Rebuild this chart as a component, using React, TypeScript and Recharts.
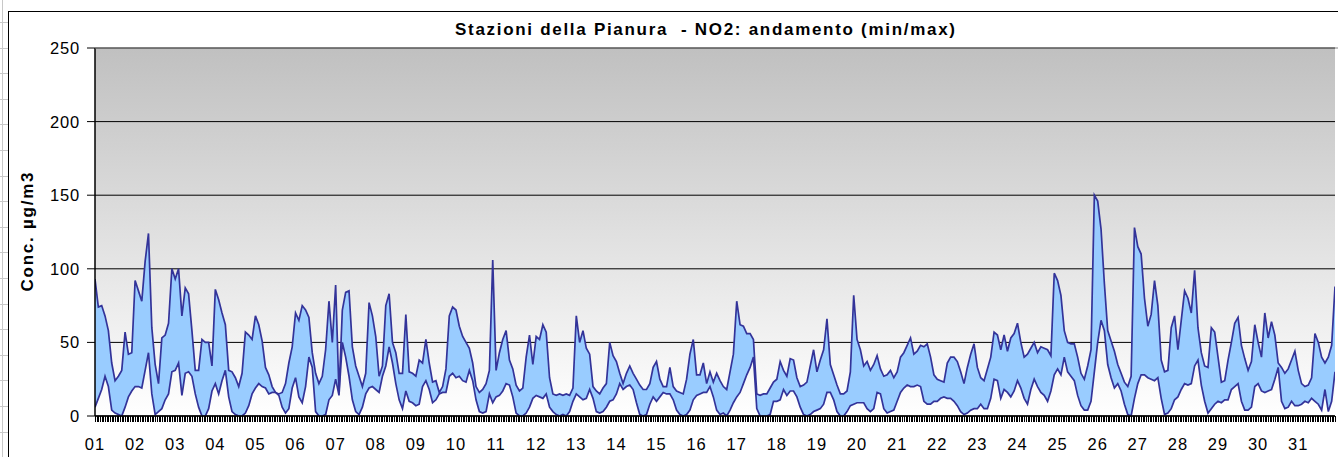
import React from "react";
import { ComposedChart, Area, Line, XAxis, YAxis, CartesianGrid } from "recharts";

// Day tick labels (one per day, start of day)
const dayLabels = [
  "01", "02", "03", "04", "05", "06", "07", "08", "09", "10",
  "11", "12", "13", "14", "15", "16", "17", "18", "19", "20",
  "21", "22", "23", "24", "25", "26", "27", "28", "29", "30", "31",
];

// Values are sampled every 2 hours (12 samples per day)
const hourStep = 2;

// Hourly maximum NO2 (µg/m3) among plain stations, 2-hour samples
const maxValues = [
  93, 74, 75, 68, 58, 36, 24, 27, 31, 57, 42, 43,
  92, 85, 78, 105, 124, 60, 35, 22, 53, 55, 63, 100,
  93, 100, 68, 87, 83, 58, 31, 31, 52, 50, 50, 34,
  86, 79, 70, 62, 31, 30, 26, 20, 29, 57, 55, 52,
  68, 62, 51, 33, 28, 20, 16, 15, 16, 22, 36, 47,
  70, 65, 75, 72, 67, 43, 29, 22, 27, 45, 78, 50,
  89, 16, 72, 84, 85, 47, 34, 27, 20, 29, 77, 68,
  54, 27, 34, 75, 83, 50, 43, 29, 29, 69, 30, 29,
  27, 38, 36, 52, 36, 23, 24, 16, 20, 32, 68, 74,
  72, 61, 54, 50, 46, 36, 20, 16, 18, 22, 31, 106,
  31, 43, 52, 58, 38, 32, 21, 17, 19, 40, 55, 35,
  54, 52, 62, 57, 26, 15, 14, 15, 14, 15, 14, 19,
  68, 50, 58, 46, 42, 20, 17, 15, 19, 22, 50, 41,
  37, 29, 22, 29, 34, 29, 25, 21, 18, 18, 22, 33,
  37, 25, 20, 20, 33, 20, 17, 16, 15, 25, 42, 52,
  28, 28, 36, 22, 30, 23, 29, 24, 20, 18, 30, 42,
  78, 62, 61, 56, 56, 52, 15, 14, 15, 15, 19, 23,
  25, 37, 31, 27, 39, 38, 26, 20, 21, 23, 34, 45,
  30, 38, 45, 66, 35, 28, 21, 15, 15, 17, 30, 82,
  52, 45, 34, 37, 31, 35, 41, 32, 27, 28, 31, 26,
  30, 40, 43, 48, 53, 42, 44, 48, 47, 49, 40, 28,
  25, 24, 23, 36, 40, 40, 37, 30, 22, 33, 42, 49,
  33, 26, 24, 32, 40, 57, 55, 45, 55, 44, 53, 56,
  63, 50, 40, 42, 46, 50, 43, 47, 46, 45, 41, 97,
  92, 82, 58, 50, 49, 49, 40, 29, 25, 34, 45, 150,
  146, 127, 90, 58, 51, 44, 35, 29, 23, 20, 27, 128,
  115, 110, 80, 61, 69, 92, 75, 38, 30, 31, 60, 68,
  45, 65, 85, 80, 70, 99, 60, 43, 34, 33, 60, 57,
  40, 23, 24, 38, 50, 63, 67, 48, 39, 31, 37, 62,
  50, 40, 70, 53, 64, 55, 36, 33, 29, 32, 38, 44,
  31, 22, 20, 21, 26, 56, 50, 40, 36, 40, 48, 88,
];

// Hourly minimum NO2 (µg/m3) among plain stations, 2-hour samples
const minValues = [
  6, 12, 18, 27, 20, 4, 2, 1, 0, 6, 13, 17,
  20, 20, 19, 31, 43, 15, 1, 3, 5, 11, 15, 30,
  31, 36, 14, 29, 30, 27, 15, 6, 0, 0, 5, 17,
  22, 15, 24, 31, 13, 3, 1, 0, 0, 2, 7, 15,
  19, 22, 20, 19, 15, 16, 16, 14, 6, 2, 5, 19,
  26, 13, 9, 20, 40, 33, 3, 0, 0, 1, 11, 14,
  25, 14, 50, 40, 27, 11, 3, 1, 6, 15, 19, 20,
  18, 16, 27, 34, 47, 36, 22, 11, 5, 17, 10, 9,
  7, 8, 20, 24, 18, 9, 11, 15, 16, 16, 27, 29,
  26, 27, 24, 23, 31, 24, 11, 3, 2, 3, 15, 9,
  13, 14, 17, 22, 21, 13, 2, 0, 0, 2, 6, 12,
  14, 13, 12, 15, 6, 3, 1, 0, 1, 0, 3, 10,
  15, 13, 11, 12, 18, 12, 3, 2, 3, 6, 10, 11,
  15, 22, 18, 20, 21, 18, 9, 1, 0, 1, 8, 13,
  10, 13, 16, 15, 15, 11, 4, 1, 0, 1, 4, 11,
  14, 15, 16, 16, 20, 13, 4, 1, 2, 0, 4, 9,
  13, 16, 22, 28, 33, 40, 5, 0, 0, 0, 1, 10,
  10, 11, 18, 14, 17, 17, 13, 6, 1, 0, 1, 3,
  4, 5, 8, 16, 16, 11, 3, 0, 0, 3, 7, 8,
  9, 9, 9, 5, 3, 5, 16, 15, 5, 2, 3, 4,
  10, 16, 19, 21, 20, 20, 21, 20, 10, 8, 8, 10,
  10, 12, 13, 12, 12, 10, 7, 3, 1, 2, 4, 5,
  5, 8, 5, 5, 12, 25, 24, 12, 18, 16, 13, 17,
  24, 19, 12, 8, 18, 25, 20, 16, 14, 10, 17, 28,
  32, 28, 40, 30, 27, 24, 14, 7, 4, 4, 10, 30,
  50, 65, 58, 35, 26, 19, 22, 17, 8, 1, 0, 12,
  22, 28, 28, 26, 25, 24, 26, 12, 1, 2, 5, 11,
  13, 18, 22, 21, 22, 34, 38, 21, 10, 2, 5, 8,
  10, 9, 11, 11, 18, 20, 22, 10, 4, 4, 6, 20,
  22, 17, 16, 17, 18, 25, 33, 10, 5, 6, 10, 7,
  7, 8, 10, 9, 12, 10, 8, 4, 18, 3, 10, 30,
];

const yTicks = [0, 50, 100, 150, 200, 250];

const titleText = "Stazioni della Pianura  - NO2: andamento (min/max)";
const yAxisTitle = "Conc. µg/m3";

const data = maxValues.map((mx, i) => ({
  hour: i * hourStep,
  min: minValues[i],
  max: mx,
  band: [minValues[i], mx],
}));

const lastHour = (maxValues.length - 1) * hourStep;
const hourTicks: number[] = [];
for (let h = 0; h <= lastHour; h++) hourTicks.push(h);

const FONT = "'Liberation Sans', Arial, Helvetica, sans-serif";

// Layout constants
const CHART_W = 1338;
const CHART_H = 457;
const X_AXIS_H = 41;
const PLOT_BOTTOM = CHART_H - X_AXIS_H;

const XTick = (props: any) => {
  const { x, payload } = props;
  const v = payload?.value as number;
  const isDay = v % 24 === 0;
  const px = Math.round(x) + 0.5;
  return (
    <g>
      <line
        x1={px}
        x2={px}
        y1={PLOT_BOTTOM}
        y2={PLOT_BOTTOM + 6}
        stroke="#000"
        strokeWidth={1}
        shapeRendering="crispEdges"
      />
      {isDay ? (
        <text
          x={x}
          y={PLOT_BOTTOM + 34}
          textAnchor="middle"
          fontSize={16.5}
          letterSpacing={1}
          fontFamily={FONT}
          fill="#000"
        >
          {dayLabels[v / 24]}
        </text>
      ) : null}
    </g>
  );
};

const YTick = (props: any) => {
  const { x, y, payload } = props;
  return (
    <text
      x={x}
      y={y}
      dy={6}
      textAnchor="end"
      fontSize={16.5}
      letterSpacing={0.8}
      fontFamily={FONT}
      fill="#000"
    >
      {payload.value}
    </text>
  );
};

export default function App() {
  return (
    <div
      style={{
        position: "absolute",
        left: 0,
        top: 0,
        width: CHART_W,
        height: CHART_H,
        overflow: "hidden",
        background: "#fff",
      }}
    >
      {/* spreadsheet row header edge */}
      <div
        style={{
          position: "absolute",
          left: 2,
          top: 0,
          width: 1,
          height: CHART_H,
          background: "#c8c8c8",
        }}
      />
      <div
        style={{
          position: "absolute",
          left: 0,
          top: 0,
          width: 8,
          height: CHART_H,
          backgroundImage:
            "repeating-linear-gradient(to bottom, transparent 0px, transparent 22px, #c8c8c8 22px, #c8c8c8 23px, transparent 23px, transparent 25.6px)",
        }}
      />
      {/* chart outer border */}
      <div
        style={{
          position: "absolute",
          left: 8,
          top: 11,
          width: 1400,
          height: 500,
          border: "1.5px solid #000",
          background: "#fff",
        }}
      />
      <div style={{ position: "absolute", left: 0, top: 0 }}>
        <ComposedChart
          width={CHART_W}
          height={CHART_H}
          data={data}
          margin={{ top: 48, right: 3, bottom: 0, left: 10 }}
        >
          <defs>
            <linearGradient id="plotBg" x1="0" y1="0" x2="0" y2="1">
              <stop offset="0%" stopColor="#c0c0c0" />
              <stop offset="100%" stopColor="#ffffff" />
            </linearGradient>
          </defs>
          <CartesianGrid
            fill="url(#plotBg)"
            fillOpacity={1}
            stroke="#000"
            strokeWidth={1}
            vertical={false}
          />
          <Area
            dataKey="band"
            type="linear"
            fill="#99ccff"
            fillOpacity={1}
            stroke="none"
            isAnimationActive={false}
            activeDot={false}
          />
          <Line
            dataKey="max"
            type="linear"
            stroke="#333399"
            strokeWidth={1.7}
            dot={false}
            activeDot={false}
            isAnimationActive={false}
          />
          <Line
            dataKey="min"
            type="linear"
            stroke="#333399"
            strokeWidth={1.7}
            dot={false}
            activeDot={false}
            isAnimationActive={false}
          />
          <XAxis
            dataKey="hour"
            type="number"
            domain={[0, lastHour]}
            ticks={hourTicks}
            interval={0}
            minTickGap={0}
            tickSize={6}
            tickMargin={2}
            tick={<XTick />}
            tickLine={false}
            axisLine={{ stroke: "#000", strokeWidth: 1.5 }}
            height={X_AXIS_H}
            allowDataOverflow
          />
          <YAxis
            type="number"
            domain={[0, 250]}
            ticks={yTicks}
            interval={0}
            width={85}
            tickSize={8}
            tickMargin={7}
            tick={<YTick />}
            tickLine={{ stroke: "#000", strokeWidth: 1 }}
            axisLine={{ stroke: "#000", strokeWidth: 1.5 }}
            allowDataOverflow
          />
        </ComposedChart>
      </div>
      <svg
        width={CHART_W}
        height={CHART_H}
        style={{ position: "absolute", left: 0, top: 0, pointerEvents: "none" }}
      >
        <line x1={95} x2={CHART_W} y1={48} y2={48} stroke="#808080" strokeWidth={1} />
        <text
          x={705}
          y={35}
          textAnchor="middle"
          fontSize={17}
          fontWeight="bold"
          fontFamily={FONT}
          textLength={500}
          lengthAdjust="spacing"
          fill="#000"
          style={{ whiteSpace: "pre" }}
        >
          {titleText}
        </text>
        <text
          x={0}
          y={0}
          transform="translate(33,232) rotate(-90)"
          textAnchor="middle"
          fontSize={17}
          fontWeight="bold"
          fontFamily={FONT}
          textLength={119}
          lengthAdjust="spacing"
          fill="#000"
        >
          {yAxisTitle}
        </text>
      </svg>
    </div>
  );
}
